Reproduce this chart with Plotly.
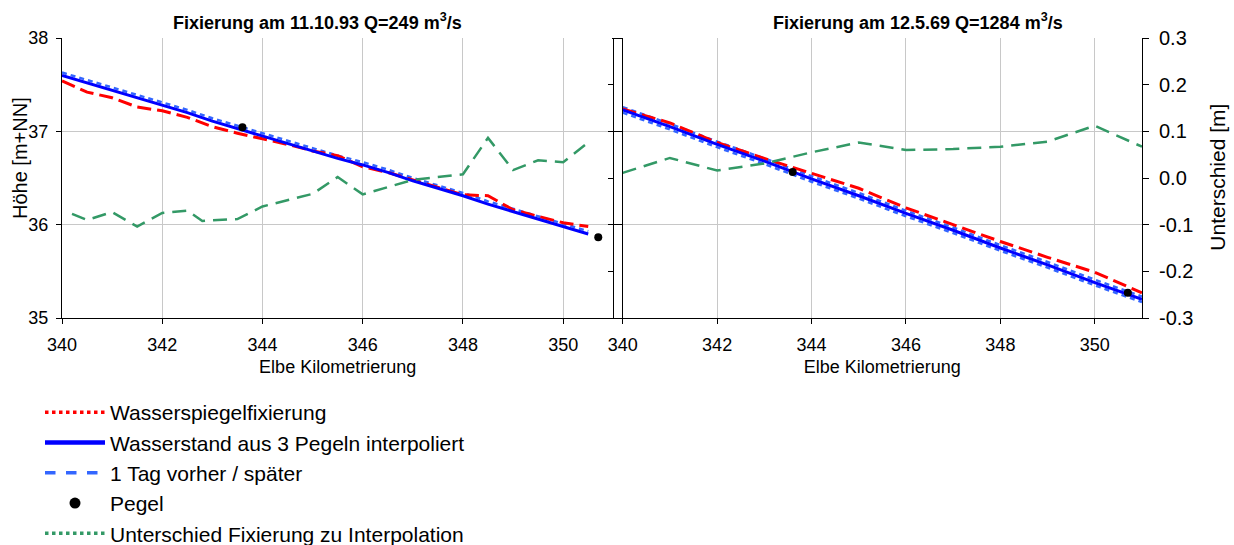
import plotly.graph_objects as go

# ---------------- data ----------------
km_left = [340, 340.5, 341, 341.5, 342, 342.5, 343, 343.5, 344, 344.5, 345,
           345.5, 346, 346.5, 347, 347.5, 348, 348.5, 349, 349.5, 350, 350.5]
fix_left = [37.54, 37.42, 37.36, 37.26, 37.22, 37.15, 37.05, 36.98, 36.92, 36.86, 36.79,
            36.74, 36.62, 36.56, 36.48, 36.40, 36.32, 36.31, 36.16, 36.09, 36.02, 35.98]
interp_left = [37.60, 37.52, 37.44, 37.36, 37.28, 37.20, 37.11, 37.03, 36.95, 36.87, 36.79,
               36.71, 36.64, 36.56, 36.47, 36.39, 36.31, 36.22, 36.14, 36.06, 35.98, 35.90]
day_left = [37.63, 37.55, 37.47, 37.39, 37.31, 37.23, 37.14, 37.06, 36.98, 36.90, 36.82,
            36.74, 36.67, 36.59, 36.50, 36.42, 36.34, 36.25, 36.17, 36.09, 36.01, 35.93]
km_diff_left = [340.2, 340.5, 341.0, 341.5, 342.0, 342.5, 342.8, 343.5, 344.0, 345.0,
                345.5, 346.0, 347.0, 348.0, 348.5, 349.0, 349.5, 350.0, 350.5]
diff_left = [-0.077, -0.090, -0.073, -0.104, -0.075, -0.070, -0.092, -0.088, -0.061, -0.034,
             0.002, -0.035, -0.004, 0.008, 0.086, 0.017, 0.038, 0.034, 0.076]
pegel_km_left = [343.6, 350.7]
pegel_h_left = [37.045, 35.865]

km_right = [340, 341, 342, 343, 344, 345, 346, 347, 348, 349, 350, 351]
fix_right = [37.24, 37.09, 36.88, 36.71, 36.55, 36.39, 36.18, 36.00, 35.82, 35.65, 35.49, 35.27]
interp_right = [37.23, 37.05, 36.86, 36.68, 36.49, 36.31, 36.12, 35.94, 35.75, 35.57, 35.38, 35.20]
day_before_right = [37.26, 37.08, 36.89, 36.71, 36.52, 36.34, 36.15, 35.97, 35.78, 35.60, 35.41, 35.23]
day_after_right = [37.20, 37.02, 36.83, 36.65, 36.46, 36.28, 36.09, 35.91, 35.72, 35.54, 35.35, 35.17]
diff_right = [0.011, 0.043, 0.016, 0.031, 0.055, 0.076, 0.060, 0.062, 0.067, 0.078, 0.112, 0.067]
pegel_km_right = [343.6, 350.7]
pegel_h_right = [36.564, 35.27]

x_ticks = [340, 342, 344, 346, 348, 350]
h_ticks = [35, 36, 37, 38]
d_ticks = [-0.3, -0.2, -0.1, 0.0, 0.1, 0.2, 0.3]
d_ticktext = ["-0.3", "-0.2", "-0.1", "0.0", "0.1", "0.2", "0.3"]

titles = ["Fixierung am 11.10.93 Q=249 m<sup>3</sup>/s",
          "Fixierung am 12.5.69 Q=1284 m<sup>3</sup>/s"]
legend_names = ["Wasserspiegelfixierung", "Wasserstand aus 3 Pegeln interpoliert",
                "1 Tag vorher / später", "Pegel", "Unterschied Fixierung zu Interpolation"]

# ---------------- style ----------------
RED = "#FF0000"
BLUE = "#0000FF"
LBLUE = "#3366FF"
GREEN = "#339966"
FONT = "Arial, Liberation Sans, sans-serif"
GRID = "#c8c8c8"

W, H = 1234, 545
ML, MR, MT, MB = 62, 92, 38, 227
PW = W - ML - MR
PH = H - MT - MB


def px_x(px):
    return (px - ML) / PW


def px_y(py):
    return (H - MB - py) / PH


fig = go.Figure()

red_line = dict(color=RED, width=3, dash="14px,6px")
blue_line = dict(color=BLUE, width=3)
lblue_line = dict(color=LBLUE, width=2.5, dash="5px,4px")
green_line = dict(color=GREEN, width=2.5, dash="14px,8px")
pegel_marker = dict(color="black", size=8)

# left panel
fig.add_trace(go.Scatter(x=km_left, y=day_left, mode="lines", line=lblue_line,
                         xaxis="x", yaxis="y", showlegend=False))
fig.add_trace(go.Scatter(x=km_left, y=fix_left, mode="lines", line=red_line,
                         xaxis="x", yaxis="y", showlegend=False))
fig.add_trace(go.Scatter(x=km_left, y=interp_left, mode="lines", line=blue_line,
                         xaxis="x", yaxis="y", showlegend=False))
fig.add_trace(go.Scatter(x=pegel_km_left, y=pegel_h_left, mode="markers", marker=pegel_marker,
                         xaxis="x", yaxis="y", showlegend=False))
fig.add_trace(go.Scatter(x=km_diff_left, y=diff_left, mode="lines", line=green_line,
                         xaxis="x", yaxis="y2", showlegend=False))

# right panel
fig.add_trace(go.Scatter(x=km_right, y=day_before_right, mode="lines", line=lblue_line,
                         xaxis="x3", yaxis="y3", showlegend=False))
fig.add_trace(go.Scatter(x=km_right, y=day_after_right, mode="lines", line=lblue_line,
                         xaxis="x3", yaxis="y3", showlegend=False))
fig.add_trace(go.Scatter(x=km_right, y=fix_right, mode="lines", line=red_line,
                         xaxis="x3", yaxis="y3", showlegend=False))
fig.add_trace(go.Scatter(x=km_right, y=interp_right, mode="lines", line=blue_line,
                         xaxis="x3", yaxis="y3", showlegend=False))
fig.add_trace(go.Scatter(x=pegel_km_right, y=pegel_h_right, mode="markers", marker=pegel_marker,
                         xaxis="x3", yaxis="y3", showlegend=False))
fig.add_trace(go.Scatter(x=km_right, y=diff_right, mode="lines", line=green_line,
                         xaxis="x3", yaxis="y4", showlegend=False))

# legend entries
leg_styles = [
    dict(mode="lines", line=dict(color=RED, width=3.5, dash="dot")),
    dict(mode="lines", line=dict(color=BLUE, width=4.5)),
    dict(mode="lines", line=dict(color=LBLUE, width=3.5, dash="dash")),
    dict(mode="markers", marker=dict(color="black", size=11)),
    dict(mode="lines", line=dict(color=GREEN, width=3.5, dash="dot")),
]
for name, st in zip(legend_names, leg_styles):
    fig.add_trace(go.Scatter(x=[None], y=[None], name=name, xaxis="x", yaxis="y", **st))

x_common = dict(range=[340, 351], tickvals=x_ticks, showgrid=True, gridcolor=GRID, gridwidth=1,
                showline=True, linecolor="black", linewidth=1, ticks="outside", ticklen=5,
                tickcolor="black", zeroline=False, ticklabelstandoff=5,
                tickfont=dict(size=18, color="black"),
                title=dict(text="Elbe Kilometrierung", font=dict(size=18, color="black"), standoff=6))
left_dom = [0, px_x(613.3)]
right_dom = [px_x(622.7), 1]

fig.update_layout(
    width=W, height=H,
    margin=dict(l=ML, r=MR, t=MT, b=MB, autoexpand=False),
    paper_bgcolor="white", plot_bgcolor="white",
    font=dict(family=FONT, color="black"),
    xaxis=dict(domain=left_dom, anchor="y", **x_common),
    yaxis=dict(domain=[0, 1], anchor="x", range=[35, 38], tickvals=h_ticks, showgrid=True,
               gridcolor=GRID, showline=True, linecolor="black", ticks="outside", ticklen=5,
               tickcolor="black", zeroline=False, tickfont=dict(size=18), ticklabelstandoff=4),
    yaxis2=dict(overlaying="y", side="right", anchor="x", range=[-0.3, 0.3], tickvals=d_ticks,
                showticklabels=False, showgrid=False, showline=True, linecolor="black",
                ticks="inside", ticklen=5, tickcolor="black", zeroline=False),
    xaxis3=dict(domain=right_dom, anchor="y3", **x_common),
    yaxis3=dict(domain=[0, 1], anchor="x3", range=[35, 38], tickvals=h_ticks, showgrid=True,
                gridcolor=GRID, showline=True, linecolor="black", ticks="outside", ticklen=10,
                tickcolor="black", showticklabels=False, zeroline=False),
    yaxis4=dict(overlaying="y3", side="right", anchor="x3", range=[-0.3, 0.3], tickvals=d_ticks,
                ticktext=d_ticktext, showgrid=False, showline=True, linecolor="black",
                ticks="outside", ticklen=6, tickcolor="black", zeroline=False,
                tickfont=dict(size=20), ticklabelstandoff=6),
    legend=dict(x=px_x(40), y=px_y(392), xanchor="left", yanchor="top",
                font=dict(size=21, color="black"), itemwidth=60, bgcolor="rgba(0,0,0,0)",
                tracegroupgap=0),
    showlegend=True,
)

ann = [
    dict(text=titles[0], x=px_x(317.5), y=px_y(22), font=dict(size=18)),
    dict(text=titles[1], x=px_x(918), y=px_y(22), font=dict(size=18)),
]
for a in ann:
    a["text"] = "<b>" + a["text"] + "</b>"
    fig.add_annotation(xref="paper", yref="paper", showarrow=False, xanchor="center",
                       yanchor="middle", **a)
fig.add_annotation(xref="paper", yref="paper", showarrow=False, text="Höhe [m+NN]",
                   x=px_x(20), y=px_y(158), textangle=-90, font=dict(size=20),
                   xanchor="center", yanchor="middle")
fig.add_annotation(xref="paper", yref="paper", showarrow=False, text="Unterschied [m]",
                   x=px_x(1216.7), y=px_y(177), textangle=-90, font=dict(size=21),
                   xanchor="center", yanchor="middle")

fig.write_html("out.html")
